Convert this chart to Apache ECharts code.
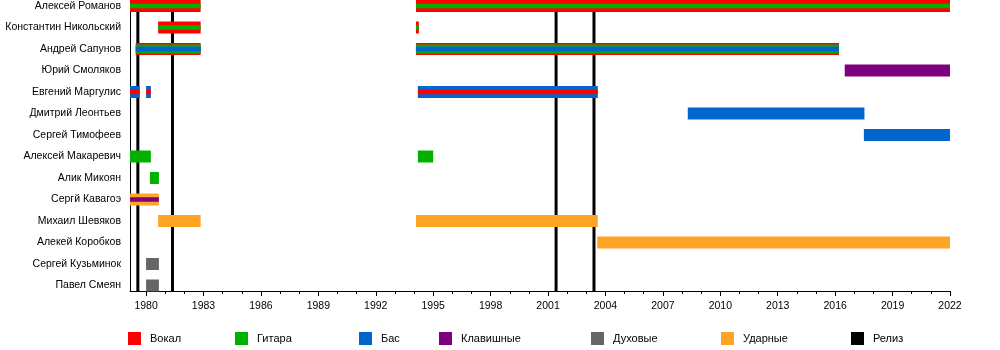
<!DOCTYPE html>
<html>
<head>
<meta charset="utf-8">
<script src="https://cdn.jsdelivr.net/npm/echarts@6/dist/echarts.min.js"></script>
<style>
  html, body { margin: 0; padding: 0; background: #fff; }
  #chart { width: 1000px; height: 350px; }
</style>
</head>
<body>
<div id="chart"></div>
<script>
// Band members, top to bottom
const members = [
  'Алексей Романов', 'Константин Никольский', 'Андрей Сапунов', 'Юрий Смоляков',
  'Евгений Маргулис', 'Дмитрий Леонтьев', 'Сергей Тимофеев', 'Алексей Макаревич',
  'Алик Микоян', 'Сергй Кавагоэ', 'Михаил Шевяков', 'Алекей Коробков',
  'Сергей Кузьминок', 'Павел Смеян'
];

// Roles shown in the legend
const roles = ['Вокал', 'Гитара', 'Бас', 'Клавишные', 'Духовые', 'Ударные'];
const releaseName = 'Релиз';

// Membership periods: member, from (year), to (year), roles (main role first)
const stints = [
  ['Алексей Романов', 1979.16, 1982.85, 'Вокал', 'Гитара'],
  ['Алексей Романов', 1994.10, 2022.00, 'Вокал', 'Гитара'],
  ['Константин Никольский', 1980.63, 1982.85, 'Вокал', 'Гитара'],
  ['Константин Никольский', 1994.10, 1994.25, 'Вокал', 'Гитара'],
  ['Андрей Сапунов', 1979.46, 1982.85, 'Вокал', 'Гитара', 'Бас'],
  ['Андрей Сапунов', 1994.10, 2016.20, 'Вокал', 'Гитара', 'Бас'],
  ['Юрий Смоляков', 2016.50, 2022.00, 'Клавишные'],
  ['Евгений Маргулис', 1979.16, 1979.67, 'Бас', 'Вокал'],
  ['Евгений Маргулис', 1980.00, 1980.25, 'Бас', 'Вокал'],
  ['Евгений Маргулис', 1994.20, 2003.60, 'Бас', 'Вокал'],
  ['Дмитрий Леонтьев', 2008.30, 2017.53, 'Бас'],
  ['Сергей Тимофеев', 2017.50, 2022.00, 'Бас'],
  ['Алексей Макаревич', 1979.16, 1980.25, 'Гитара'],
  ['Алексей Макаревич', 1994.20, 1995.00, 'Гитара'],
  ['Алик Микоян', 1980.20, 1980.67, 'Гитара'],
  ['Сергй Кавагоэ', 1979.16, 1980.67, 'Ударные', 'Клавишные'],
  ['Михаил Шевяков', 1980.63, 1982.85, 'Ударные'],
  ['Михаил Шевяков', 1994.10, 2003.60, 'Ударные'],
  ['Алекей Коробков', 2003.57, 2022.00, 'Ударные'],
  ['Сергей Кузьминок', 1980.00, 1980.67, 'Духовые'],
  ['Павел Смеян', 1980.00, 1980.67, 'Духовые']
];

// Album releases (year)
const releases = [1979.57, 1981.38, 2001.42, 2003.40];

// Axis range and tick labels
const yearFrom = 1979.16;
const yearTo = 2022.0;
const majorYears = [1980, 1983, 1986, 1989, 1992, 1995, 1998, 2001, 2004, 2007, 2010, 2013, 2016, 2019, 2022];
const allYears = [];
for (let y = 1980; y <= 2022; y++) allYears.push(y);

const roleColors = {
  'Вокал': '#ff0000',
  'Гитара': '#00b200',
  'Бас': '#0066cc',
  'Клавишные': '#7f007f',
  'Духовые': '#666666',
  'Ударные': '#ffa424'
};
// Bar thickness per stripe, depending on how many roles share the bar
const stripeHeights = [[12], [12, 4.5], [12, 9, 5]];

const font = '"Liberation Sans", Arial, sans-serif';
const fontSize = 10.5;

function roleData(role) {
  const out = [];
  stints.forEach(s => {
    const rs = s.slice(3);
    const layer = rs.indexOf(role);
    if (layer >= 0) out.push([members.indexOf(s[0]), s[1], s[2], layer, rs.length]);
  });
  return out;
}

function barRenderer(color) {
  return function (params, api) {
    const row = api.value(0);
    const p0 = api.coord([api.value(1), row]);
    const p1 = api.coord([api.value(2), row]);
    const h = stripeHeights[api.value(4) - 1][api.value(3)];
    return {
      type: 'rect',
      z2: 10 + api.value(3),
      shape: { x: p0[0], y: p0[1] - h / 2, width: p1[0] - p0[0], height: h },
      style: { fill: color }
    };
  };
}

const series = roles.map(role => ({
  name: role,
  type: 'custom',
  z: 3,
  itemStyle: { color: roleColors[role] },
  renderItem: barRenderer(roleColors[role]),
  encode: { x: [1, 2], y: 0 },
  data: roleData(role)
}));

series.push({
  name: releaseName,
  type: 'custom',
  z: 2,
  itemStyle: { color: '#000' },
  encode: { x: 0, y: 1 },
  data: releases.map(v => [v, 0]),
  renderItem: function (params, api) {
    const x = api.coord([api.value(0), 0])[0];
    const cs = params.coordSys;
    return {
      type: 'line',
      shape: { x1: x, y1: cs.y, x2: x, y2: cs.y + cs.height },
      style: { stroke: '#000', lineWidth: 3 }
    };
  }
});

// One legend block per entry, laid out in columns
const legendLeft = [128, 235, 359, 439, 591, 721, 851];
const legendNames = roles.concat([releaseName]);
const legends = legendNames.map((name, i) => ({
  data: [name],
  left: legendLeft[i],
  top: 332,
  padding: 0,
  icon: 'rect',
  itemWidth: 13,
  itemHeight: 13,
  selectedMode: false,
  textStyle: { fontFamily: font, fontSize: 11, color: '#000', padding: [0, 0, 0, 4] }
}));

const chart = echarts.init(document.getElementById('chart'), null, { renderer: 'canvas' });
chart.setOption({
  animation: false,
  backgroundColor: '#fff',
  grid: { left: 130, right: 50, top: 0, bottom: 59, containLabel: false },
  legend: legends,
  xAxis: [
    {
      type: 'value',
      min: yearFrom,
      max: yearTo,
      position: 'bottom',
      axisLine: { show: true, onZero: false, lineStyle: { color: '#000', width: 1 } },
      axisTick: { show: true, length: 5, customValues: majorYears, lineStyle: { color: '#000' } },
      axisLabel: {
        customValues: majorYears,
        formatter: v => String(v),
        margin: 10,
        fontFamily: font, fontSize: fontSize, color: '#000'
      },
      splitLine: { show: false }
    },
    {
      type: 'value',
      min: yearFrom,
      max: yearTo,
      position: 'bottom',
      axisLine: { show: false, onZero: false },
      axisTick: { show: true, length: 3, customValues: allYears, lineStyle: { color: '#000' } },
      axisLabel: { show: false },
      splitLine: { show: false }
    }
  ],
  yAxis: {
    type: 'value',
    inverse: true,
    min: -0.28,
    max: 13.256,
    axisLine: { show: true, onZero: false, lineStyle: { color: '#000', width: 1 } },
    axisTick: { show: false },
    splitLine: { show: false },
    axisLabel: {
      customValues: members.map((m, i) => i),
      formatter: v => members[Math.round(v)] || '',
      margin: 9,
      fontFamily: font, fontSize: fontSize, color: '#000'
    }
  },
  series: series
});
</script>
</body>
</html>
